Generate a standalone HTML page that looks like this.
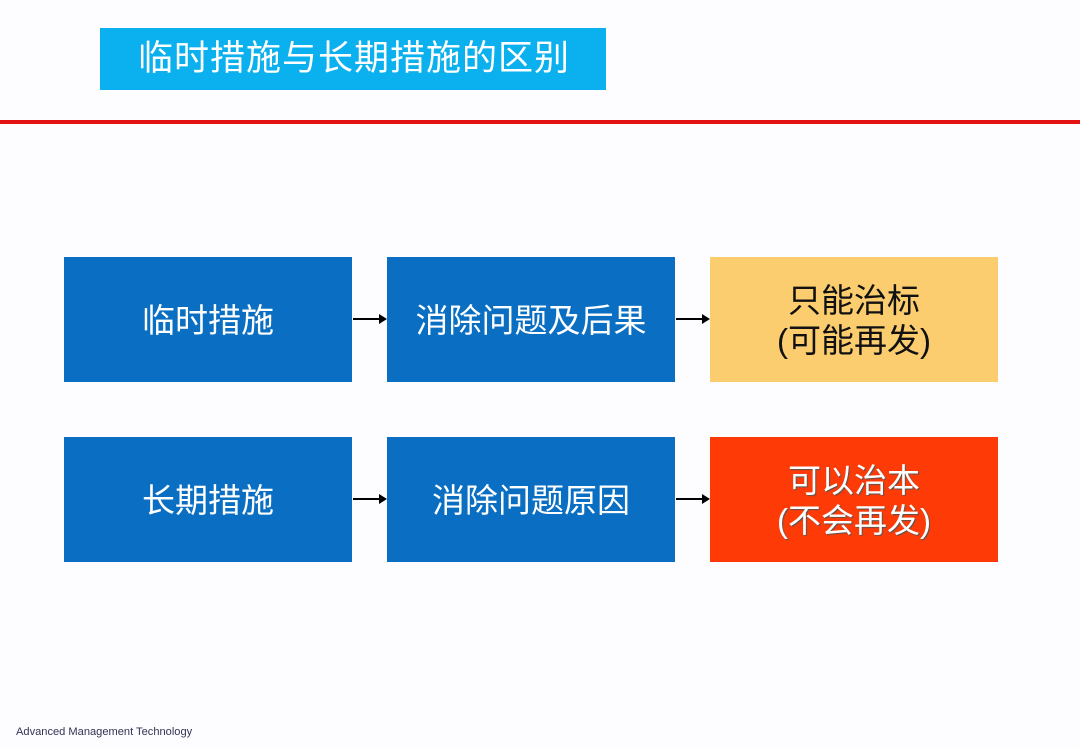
<!DOCTYPE html>
<html><head><meta charset="utf-8"><style>
body{margin:0;width:1080px;height:748px;background:#fdfdff;position:relative;overflow:hidden;font-family:"Liberation Sans","Noto Sans CJK SC",sans-serif}
.t{position:absolute;left:100px;top:28px;width:506px;height:62px;background:#0bb0ee;color:#fff;font-size:35px;line-height:62px;text-indent:38px;letter-spacing:1px}
.r{position:absolute;left:0;top:120px;width:1080px;height:4px;background:#e31313}
.b{position:absolute;width:288px;height:125px;display:flex;align-items:center;justify-content:center;text-align:center;font-size:33px;line-height:40px;color:#fff;padding-top:3px;box-sizing:border-box}
.blue{background:#0a6fc2}
.a{position:absolute;height:2px;background:#000;width:28px}
.a:after{content:"";position:absolute;right:-6px;top:-4px;border-left:8px solid #000;border-top:5px solid transparent;border-bottom:5px solid transparent}
.f{position:absolute;left:16px;top:726px;font-size:11.1px;color:#333355}
</style></head><body>
<div class="t">临时措施与长期措施的区别</div>
<div class="r"></div>
<div class="b blue" style="left:64px;top:257px">临时措施</div>
<div class="b blue" style="left:387px;top:257px">消除问题及后果</div>
<div class="b" style="left:710px;top:257px;background:#fccd6e;color:#111">只能治标<br>(可能再发)</div>
<div class="b blue" style="left:64px;top:437px">长期措施</div>
<div class="b blue" style="left:387px;top:437px">消除问题原因</div>
<div class="b" style="left:710px;top:437px;background:#fe3b06;text-shadow:1px 1px 1px #555">可以治本<br>(不会再发)</div>
<div class="a" style="left:353px;top:318px"></div>
<div class="a" style="left:676px;top:318px"></div>
<div class="a" style="left:353px;top:498px"></div>
<div class="a" style="left:676px;top:498px"></div>
<div class="f">Advanced Management Technology</div>
</body></html>
